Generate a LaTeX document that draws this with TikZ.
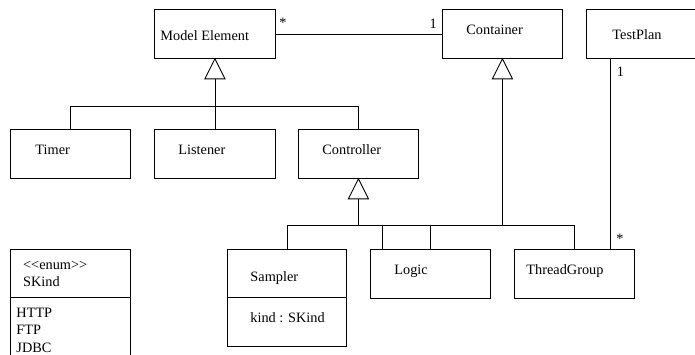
\documentclass[tikz,border=0pt]{standalone}
\usepackage{fontspec}
\setmainfont{Liberation Serif}
\begin{document}
\begin{tikzpicture}[x=1pt,y=-1pt,line width=0.9pt,
  cls/.style={draw,inner sep=0pt,anchor=north west,minimum width=120pt,minimum height=48.6pt},
  txt/.style={inner sep=0pt,anchor=base west,font=\fontsize{14.3}{17}\selectfont},
  mult/.style={inner sep=0pt,font=\fontsize{14.3}{17}\selectfont}]
\clip (0,0) rectangle (695,354);
% class boxes
\node[cls,minimum width=121pt] (me) at (154,9.3) {};
\node[cls] (cont) at (442,9.3) {};
\node[cls] (tp) at (586,9.3) {};
\node[cls] (timer) at (10,129.3) {};
\node[cls,minimum width=121pt] (lis) at (154,129.3) {};
\node[cls] (ctrl) at (298,129.3) {};
\node[cls,minimum height=48pt] (skh) at (10,249.3) {};
\node[cls,minimum height=70pt] (skb) at (10,297.3) {};
\node[cls,minimum width=119.6pt,minimum height=48pt] (samh) at (226.7,249.3) {};
\node[cls,minimum width=119.6pt,minimum height=48.4pt] (samb) at (226.7,297.3) {};
\node[cls] (logic) at (370.3,249.3) {};
\node[cls] (tg) at (514.3,249.3) {};
% texts
\node[txt] (tme) at (160,40) {Model Element};
\node[txt] (tcont) at (466,34.3) {Container};
\node[txt] (ttp) at (612,39.6) {TestPlan};
\node[txt] (ttimer) at (35,154) {Timer};
\node[txt] (tlis) at (178,154) {Listener};
\node[txt] (tctrl) at (322,154) {Controller};
\node[txt] (tenum) at (22.7,269.3) {<{}<enum>{}>};
\node[txt] (tsk) at (22.7,286.7) {SKind};
\node[txt] (thttp) at (16,317.3) {HTTP};
\node[txt] (tftp) at (16,334.7) {FTP};
\node[txt] (tjdbc) at (16,352) {JDBC};
\node[txt] (tsam) at (250,281) {Sampler};
\node[txt] (tkind) at (250,322.7) {kind : SKind};
\node[txt] (tlogic) at (394,274) {Logic};
\node[txt] (ttg) at (526,274) {ThreadGroup};
% multiplicities
\node[mult] (m1) at (283,23) {*};
\node[mult] (m2) at (433.3,23.3) {1};
\node[mult] (m3) at (620.5,71.7) {1};
\node[mult] (m4) at (620,239) {*};
% association
\draw (me) -- (cont);
\draw (tp.south west) ++(24.3,0) coordinate (tpa) -- (tpa |- tg.north);
% generalization: Model Element
\draw (me.south) -- ++(-10,20) -- ++(20,0) -- cycle;
\draw (me.south) ++(0,20) coordinate (meb) -- (lis.north);
\draw (timer.north) -- (timer.north |- 0,106) -- (ctrl.north |- 0,106) -- (ctrl.north);
% generalization: Controller
\draw (ctrl.south) -- ++(-10,20) -- ++(20,0) -- cycle;
\draw (ctrl.south) ++(0,20) coordinate (ctb) -- (ctb |- 0,225);
\draw (samh.north) -- (samh.north |- 0,225) -- (logic.north |- 0,225) -- (logic.north);
% generalization: Container
\draw (cont.south) -- ++(-10,20) -- ++(20,0) -- cycle;
\draw (cont.south) ++(0,20) coordinate (cob) -- (cob |- 0,225);
\draw (logic.north west) ++(12,0) coordinate (lga) -- (lga |- 0,225) -- (tg.north |- 0,225) -- (tg.north);
\end{tikzpicture}
\end{document}
